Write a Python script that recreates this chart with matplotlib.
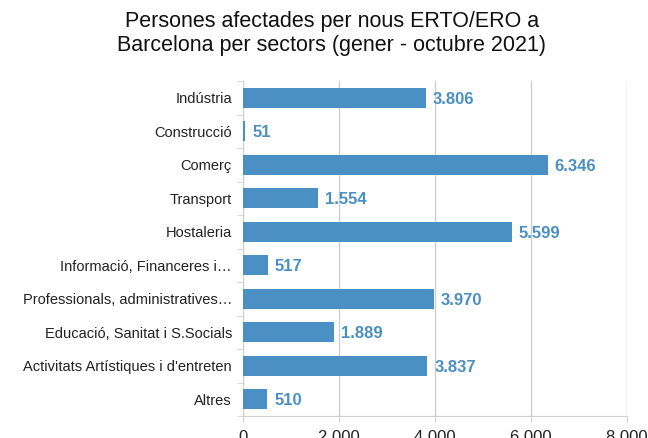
import numpy as np
import matplotlib
matplotlib.use("Agg")
import matplotlib.pyplot as plt
from matplotlib.ticker import FuncFormatter, FixedLocator

plt.rcParams["font.family"] = ["Liberation Sans", "DejaVu Sans"]

sectors = ["Indústria", "Construcció", "Comerç", "Transport", "Hostaleria",
           "Informació, Financeres i…", "Professionals, administratives…",
           "Educació, Sanitat i S.Socials", "Activitats Artístiques i d'entreten",
           "Altres"]
persons = [3806, 51, 6346, 1554, 5599, 517, 3970, 1889, 3837, 510]
x_ticks = [0, 2000, 4000, 6000, 8000]

BAR = "#4a90c4"
GRID = "#d0d0d0"

fig = plt.figure(figsize=(6.48, 4.38), dpi=100)
ax = fig.add_axes([0.375, 0.05, 0.593, 0.765])

y = np.arange(len(sectors))
ax.barh(y, persons, height=0.6, color=BAR, zorder=3)
ax.set_ylim(len(sectors) - 0.5, -0.5)
ax.set_xlim(0, 8000)

# value labels just past the bar ends
for yi, v in zip(y, persons):
    ax.annotate(f"{v:,}".replace(",", "."), (v, yi), xytext=(5, -1),
                textcoords="offset points", va="center", ha="left",
                fontsize=12, fontweight="bold", color=BAR, zorder=4)

ax.set_yticks(y)
ax.set_yticklabels(sectors, fontsize=10.5, color="#222222")
ax.tick_params(axis="y", length=0, pad=8)
ax.yaxis.set_minor_locator(FixedLocator(np.arange(-0.5, len(sectors), 1)))
ax.tick_params(axis="y", which="minor", length=4, color=GRID, direction="out")

ax.set_xticks(x_ticks)
ax.xaxis.set_major_formatter(FuncFormatter(lambda v, p: f"{int(v):,}".replace(",", " ")))
ax.tick_params(axis="x", length=4, color=GRID, labelsize=12, pad=6, labelcolor="#222222")
ax.grid(axis="x", color=GRID, linewidth=1, zorder=0)

for s in ["top", "right"]:
    ax.spines[s].set_visible(False)
for s in ["left", "bottom"]:
    ax.spines[s].set_color(GRID)

fig.suptitle("Persones afectades per nous ERTO/ERO a\nBarcelona per sectors (gener - octubre 2021)",
             x=0.512, y=0.976, fontsize=15.5, color="#111111", linespacing=1.2)

fig.savefig("out.png", dpi=100)
